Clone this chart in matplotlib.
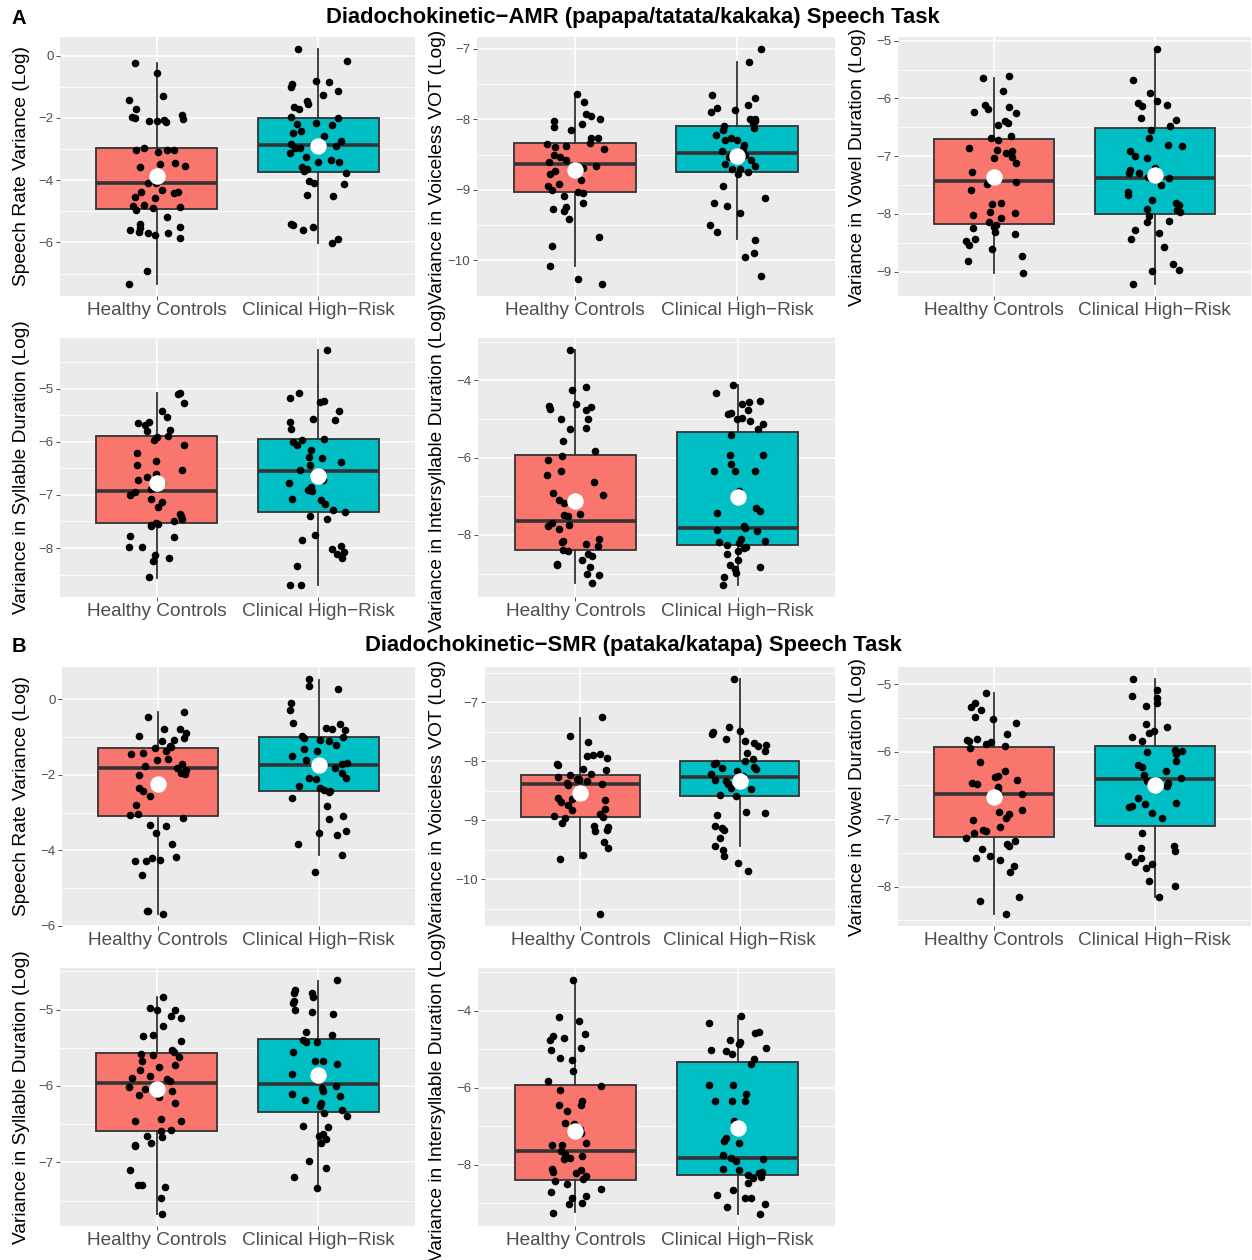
import numpy as np
import matplotlib
matplotlib.use("Agg")
import matplotlib.pyplot as plt
from matplotlib.ticker import MultipleLocator, FuncFormatter

plt.rcParams["font.family"] = ["Liberation Sans", "DejaVu Sans"]

groups = ["Healthy Controls", "Clinical High\u2212Risk"]
fills = ["#F8766D", "#00BFC4"]

# ---- AMR task (papapa/tatata/kakaka) ----
amr_rate_hc = [-0.24, -0.57, -1.30, -1.43, -1.70, -1.92, -1.98, -2.00, -2.02, -2.08, -2.11, -2.11,
               -2.13, -2.97, -3.02, -3.04, -3.04, -3.11, -3.45, -3.48, -3.54, -3.56, -3.85, -4.08,
               -4.10, -4.31, -4.37, -4.42, -4.39, -4.53, -4.58, -4.80, -4.83, -4.85, -4.90, -4.96,
               -5.17, -5.41, -5.49, -5.55, -5.60, -5.66, -5.69, -5.76, -5.87, -5.71, -6.91, -7.34]
amr_rate_chr = [0.22, -0.17, -0.82, -0.85, -0.92, -1.00, -1.14, -1.28, -1.47, -1.54, -1.65, -1.70,
                -1.97, -2.01, -2.16, -2.18, -2.22, -2.43, -2.48, -2.59, -2.75, -2.83, -2.89, -2.97,
                -2.98, -3.13, -3.26, -3.34, -3.41, -3.43, -3.56, -3.65, -3.72, -3.77, -4.12, -4.01,
                -4.08, -4.49, -4.51, -5.42, -5.44, -5.49, -5.60, -5.90, -6.03]
amr_rate_box = [[-4.91, -4.10, -2.97, -7.34, -0.24, -3.88],
                [-3.75, -2.86, -1.99, -6.03, 0.20, -2.89]]

amr_vot_hc = [-7.64, -7.76, -7.92, -7.96, -7.99, -8.03, -8.07, -8.11, -8.15, -8.26, -8.27, -8.33,
              -8.35, -8.38, -8.39, -8.42, -8.50, -8.54, -8.58, -8.61, -8.66, -8.69, -8.73, -8.75,
              -8.77, -8.86, -8.92, -8.95, -9.00, -9.03, -9.05, -9.09, -9.19, -9.25, -9.27, -9.30,
              -9.42, -9.67, -9.80, -10.08, -10.27, -10.34]
amr_vot_chr = [-7.00, -7.19, -7.66, -7.70, -7.80, -7.84, -7.87, -7.90, -7.99, -8.00, -8.03, -8.07,
               -8.09, -8.13, -8.15, -8.23, -8.26, -8.29, -8.30, -8.37, -8.42, -8.45, -8.51, -8.54,
               -8.58, -8.64, -8.66, -8.70, -8.71, -8.75, -8.78, -8.94, -9.11, -9.19, -9.23, -9.33,
               -9.50, -9.60, -9.71, -9.89, -9.96, -10.23]
amr_vot_box = [[-9.03, -8.63, -8.33, -10.08, -7.65, -8.72],
               [-8.75, -8.48, -8.09, -9.70, -7.19, -8.52]]

amr_vowel_hc = [-5.62, -5.64, -5.88, -6.11, -6.15, -6.19, -6.23, -6.26, -6.40, -6.43, -6.46, -6.66,
                -6.69, -6.72, -6.86, -6.89, -6.92, -6.95, -7.01, -7.04, -7.12, -7.27, -7.44, -7.48,
                -7.59, -7.81, -7.83, -7.96, -7.99, -8.02, -8.08, -8.15, -8.20, -8.22, -8.25, -8.31,
                -8.35, -8.43, -8.47, -8.54, -8.61, -8.73, -8.82, -9.03]
amr_vowel_chr = [-5.14, -5.68, -5.90, -6.08, -6.11, -6.05, -6.14, -6.34, -6.37, -6.48, -6.55, -6.69,
                 -6.81, -6.82, -6.92, -7.00, -7.03, -7.21, -7.24, -7.29, -7.30, -7.36, -7.38, -7.50,
                 -7.62, -7.67, -7.76, -7.82, -7.85, -7.91, -7.93, -7.96, -8.04, -8.12, -8.15, -8.28,
                 -8.33, -8.43, -8.58, -8.87, -8.98, -8.99, -9.22]
amr_vowel_box = [[-8.17, -7.43, -6.70, -9.03, -5.64, -7.37],
                 [-8.00, -7.38, -6.52, -9.22, -5.16, -7.33]]

amr_syll_hc = [-5.08, -5.11, -5.28, -5.42, -5.54, -5.62, -5.65, -5.68, -5.78, -5.79, -5.89, -5.92,
               -5.96, -6.06, -6.21, -6.36, -6.44, -6.54, -6.60, -6.66, -6.72, -6.78, -6.89, -6.95,
               -7.01, -7.08, -7.14, -7.22, -7.36, -7.39, -7.46, -7.50, -7.52, -7.54, -7.56, -7.58,
               -7.77, -7.79, -7.98, -7.99, -8.13, -8.18, -8.25, -8.55]
amr_syll_chr = [-4.27, -5.09, -5.18, -5.24, -5.26, -5.43, -5.58, -5.59, -5.62, -5.77, -5.94, -5.96,
                -6.00, -6.06, -6.15, -6.28, -6.30, -6.38, -6.43, -6.53, -6.72, -6.78, -6.85, -6.91,
                -6.93, -7.08, -7.09, -7.17, -7.28, -7.33, -7.39, -7.46, -7.75, -7.85, -7.96, -8.01,
                -8.07, -8.11, -8.18, -8.33, -8.70, -8.70]
amr_syll_box = [[-7.53, -6.92, -5.90, -8.56, -5.09, -6.77],
                [-7.33, -6.56, -5.95, -8.70, -4.27, -6.65]]

amr_inter_hc = [-3.21, -4.16, -4.25, -4.62, -4.68, -4.74, -4.77, -4.67, -5.00, -5.00, -5.23, -5.27,
                -5.58, -5.84, -5.95, -6.07, -6.35, -6.46, -6.63, -6.92, -6.96, -7.09, -7.18, -7.45,
                -7.48, -7.51, -7.68, -7.74, -7.78, -7.85, -8.11, -8.15, -8.17, -8.23, -8.29, -8.39,
                -8.41, -8.49, -8.55, -8.65, -8.74, -8.78, -8.82, -9.01, -9.04, -9.24]
amr_inter_chr = [-4.13, -4.34, -4.54, -4.56, -4.60, -4.78, -4.84, -4.87, -4.97, -5.01, -5.06, -5.14,
                 -5.26, -5.41, -5.92, -5.92, -6.16, -6.35, -6.35, -6.35, -6.87, -7.31, -7.39, -7.42,
                 -7.77, -7.83, -7.87, -7.91, -8.11, -8.15, -8.17, -8.22, -8.26, -8.30, -8.35, -8.41,
                 -8.48, -8.65, -8.78, -8.84, -8.89, -8.98, -9.08, -9.30]
amr_inter_box = [[-8.39, -7.64, -5.94, -9.23, -3.21, -7.11],
                 [-8.26, -7.83, -5.33, -9.30, -4.13, -7.03]]

# ---- SMR task (pataka/katapa) ----
smr_rate_hc = [-0.32, -0.47, -0.77, -0.78, -0.90, -0.96, -1.01, -1.08, -1.11, -1.23, -1.26, -1.30,
               -1.36, -1.43, -1.45, -1.57, -1.61, -1.72, -1.76, -1.81, -1.88, -1.94, -1.97, -2.01,
               -2.36, -2.42, -2.57, -2.79, -3.04, -3.07, -3.15, -3.32, -3.37, -3.55, -3.84, -4.17,
               -4.20, -4.27, -4.29, -4.30, -4.66, -5.62, -5.62, -5.70]
smr_rate_chr = [0.55, 0.37, 0.29, -0.10, -0.29, -0.62, -0.65, -0.76, -0.78, -0.81, -0.96, -0.99,
                -1.02, -1.08, -1.11, -1.20, -1.32, -1.36, -1.50, -1.61, -1.68, -1.72, -1.76, -1.81,
                -1.94, -2.08, -2.09, -2.12, -2.30, -2.34, -2.39, -2.43, -2.45, -2.61, -2.83, -3.10,
                -3.16, -3.50, -3.55, -3.59, -3.84, -4.14, -4.57]
smr_rate_box = [[-3.08, -1.83, -1.30, -5.70, -0.34, -2.25],
                [-2.42, -1.74, -0.99, -4.14, 0.53, -1.74]]

smr_vot_hc = [-7.24, -7.57, -7.67, -7.87, -7.90, -7.91, -7.94, -8.04, -8.06, -8.13, -8.15, -8.22,
              -8.23, -8.26, -8.29, -8.30, -8.32, -8.34, -8.36, -8.38, -8.40, -8.62, -8.64, -8.66,
              -8.68, -8.74, -8.81, -8.83, -8.90, -8.93, -8.95, -8.96, -9.04, -9.10, -9.12, -9.16,
              -9.18, -9.37, -9.47, -9.59, -9.65, -10.59]
smr_vot_chr = [-6.60, -7.41, -7.49, -7.51, -7.53, -7.62, -7.65, -7.69, -7.72, -7.74, -7.82, -7.85,
               -7.96, -7.99, -8.02, -8.05, -8.09, -8.12, -8.13, -8.16, -8.22, -8.25, -8.29, -8.32,
               -8.34, -8.38, -8.45, -8.47, -8.57, -8.59, -8.85, -8.87, -8.91, -9.10, -9.13, -9.17,
               -9.29, -9.44, -9.50, -9.61, -9.72, -9.85]
smr_vot_box = [[-8.94, -8.39, -8.23, -9.64, -7.26, -8.54],
               [-8.59, -8.26, -7.99, -9.43, -6.60, -8.33]]

smr_vowel_hc = [-5.13, -5.28, -5.34, -5.38, -5.48, -5.52, -5.57, -5.74, -5.81, -5.83, -5.84, -5.86,
                -5.89, -5.91, -5.95, -6.16, -6.29, -6.36, -6.38, -6.42, -6.46, -6.48, -6.53, -6.56,
                -6.63, -6.86, -6.89, -6.93, -6.98, -7.02, -7.12, -7.16, -7.18, -7.21, -7.28, -7.33,
                -7.37, -7.40, -7.45, -7.54, -7.57, -7.60, -7.70, -7.78, -8.16, -8.21, -8.41]
smr_vowel_chr = [-4.92, -5.08, -5.18, -5.20, -5.28, -5.33, -5.59, -5.64, -5.69, -5.72, -5.78, -5.84,
                 -5.97, -5.99, -6.01, -6.03, -6.14, -6.20, -6.23, -6.29, -6.34, -6.39, -6.43, -6.46,
                 -6.51, -6.68, -6.76, -6.78, -6.81, -6.82, -6.91, -6.98, -7.21, -7.40, -7.43, -7.48,
                 -7.55, -7.58, -7.63, -7.67, -7.73, -7.92, -7.99, -8.15]
smr_vowel_box = [[-7.27, -6.63, -5.93, -8.41, -5.13, -6.67],
                 [-7.10, -6.40, -5.91, -8.15, -4.92, -6.50]]

smr_syll_hc = [-4.83, -4.98, -5.00, -5.01, -5.08, -5.11, -5.21, -5.33, -5.35, -5.41, -5.53, -5.55,
               -5.58, -5.60, -5.62, -5.67, -5.72, -5.75, -5.79, -5.87, -5.89, -5.91, -5.94, -6.01,
               -6.04, -6.07, -6.12, -6.15, -6.23, -6.43, -6.46, -6.46, -6.58, -6.59, -6.66, -6.67,
               -6.75, -6.77, -6.78, -7.10, -7.30, -7.30, -7.32, -7.47, -7.68]
smr_syll_chr = [-4.61, -4.75, -4.78, -4.79, -4.83, -4.89, -4.92, -5.01, -5.03, -5.06, -5.30, -5.34,
                -5.40, -5.42, -5.43, -5.55, -5.67, -5.68, -5.71, -5.85, -6.00, -6.03, -6.06, -6.10,
                -6.13, -6.19, -6.23, -6.26, -6.32, -6.35, -6.40, -6.52, -6.54, -6.63, -6.66, -6.69,
                -6.75, -6.98, -7.07, -7.19, -7.34]
smr_syll_box = [[-6.59, -5.96, -5.57, -7.68, -4.83, -6.04],
                [-6.34, -5.97, -5.38, -7.34, -4.63, -5.86]]

smr_inter_hc = [-3.20, -4.16, -4.26, -4.61, -4.65, -4.71, -4.76, -4.98, -5.02, -5.23, -5.28, -5.56,
                -5.84, -5.95, -6.07, -6.34, -6.45, -6.46, -6.62, -6.91, -6.95, -7.08, -7.19, -7.45,
                -7.49, -7.49, -7.64, -7.73, -7.77, -7.82, -7.86, -8.12, -8.15, -8.18, -8.23, -8.30,
                -8.38, -8.43, -8.51, -8.64, -8.70, -8.82, -8.86, -8.99, -9.03, -9.25]
smr_inter_chr = [-4.13, -4.33, -4.56, -4.59, -4.76, -4.82, -4.87, -4.97, -5.02, -5.06, -5.13, -5.26,
                 -5.39, -5.93, -5.93, -6.17, -6.34, -6.34, -6.34, -6.86, -7.31, -7.38, -7.43, -7.75,
                 -7.84, -7.86, -7.90, -8.12, -8.15, -8.18, -8.23, -8.27, -8.32, -8.36, -8.47, -8.67,
                 -8.79, -8.86, -8.88, -9.03, -9.10, -9.29]
smr_inter_box = [[-8.40, -7.64, -5.93, -9.22, -3.24, -7.12],
                 [-8.27, -7.84, -5.33, -9.29, -4.13, -7.04]]

ylabels = ["Speech Rate Variance (Log)", "Variance in Voiceless VOT (Log)",
           "Variance in Vowel Duration (Log)", "Variance in Syllable Duration (Log)",
           "Variance in Intersyllable Duration (Log)"]
tick_steps = [2, 1, 1, 1, 2]

amr_panels = [(amr_rate_hc, amr_rate_chr, amr_rate_box), (amr_vot_hc, amr_vot_chr, amr_vot_box),
              (amr_vowel_hc, amr_vowel_chr, amr_vowel_box), (amr_syll_hc, amr_syll_chr, amr_syll_box),
              (amr_inter_hc, amr_inter_chr, amr_inter_box)]
smr_panels = [(smr_rate_hc, smr_rate_chr, smr_rate_box), (smr_vot_hc, smr_vot_chr, smr_vot_box),
              (smr_vowel_hc, smr_vowel_chr, smr_vowel_box), (smr_syll_hc, smr_syll_chr, smr_syll_box),
              (smr_inter_hc, smr_inter_chr, smr_inter_box)]

W, H = 1252, 1260
fig = plt.figure(figsize=(W / 100, H / 100), dpi=100)

# panel boxes in pixels: left, top, right, bottom
amr_rects = [(60, 37, 415, 296), (477, 37, 835, 296), (898, 37, 1251, 296),
             (60, 338, 415, 597), (478, 338, 835, 597)]
smr_rects = [(62, 667, 415, 926), (485, 667, 835, 926), (898, 667, 1251, 926),
             (60, 968, 415, 1226), (478, 968, 835, 1226)]
label_x = [22, 437, 858, 22, 437]

rng = np.random.default_rng(11)


def minus_fmt(v, pos):
    return f"{int(round(v))}".replace("-", "\u2212")


def draw_panel(rect, hc, chr_, box, ylabel, step, lab_x):
    l, t, r, b = rect
    ax = fig.add_axes([l / W, 1 - b / H, (r - l) / W, (b - t) / H])
    ax.set_facecolor("#EBEBEB")
    for s in ax.spines.values():
        s.set_visible(False)
    ax.set_axisbelow(True)

    stats = []
    for i, st in enumerate(box):
        q1, med, q3, lo, hi, mean = st
        stats.append(dict(q1=q1, med=med, q3=q3, whislo=lo, whishi=hi, mean=mean,
                          fliers=[], label=groups[i]))
    bp = ax.bxp(stats, positions=[1, 2], widths=0.75, patch_artist=True,
                showcaps=False, showfliers=False, showmeans=False,
                boxprops=dict(edgecolor="#333333", linewidth=1.3),
                whiskerprops=dict(color="#333333", linewidth=1.3),
                medianprops=dict(color="#333333", linewidth=2.6))
    for patch, c in zip(bp["boxes"], fills):
        patch.set_facecolor(c)

    # jittered observations, then the group mean in white
    for i, vals in enumerate([hc, chr_]):
        vals = np.asarray(vals)
        xs = i + 1 + rng.uniform(-0.18, 0.18, len(vals))
        ax.scatter(xs, vals, s=30, color="black", zorder=4, linewidths=0)
    ax.scatter([1, 2], [box[0][5], box[1][5]], s=140, color="white", zorder=5, linewidths=0)

    allv = np.concatenate([hc, chr_])
    lo, hi = allv.min(), allv.max()
    pad = (hi - lo) * 0.05
    ax.set_ylim(lo - pad, hi + pad)
    ax.set_xlim(0.4, 2.6)
    ax.set_xticks([1, 2])
    ax.set_xticklabels(groups)
    ax.yaxis.set_major_locator(MultipleLocator(step))
    ax.yaxis.set_minor_locator(MultipleLocator(step / 2))
    ax.yaxis.set_major_formatter(FuncFormatter(minus_fmt))
    ax.grid(True, which="major", color="white", linewidth=1.1)
    ax.grid(True, which="minor", axis="y", color="white", linewidth=0.55)
    ax.tick_params(axis="both", which="major", length=2.75, width=0.6, color="#333333")
    ax.tick_params(axis="y", which="minor", length=0)
    ax.tick_params(axis="x", labelsize=13.7, labelcolor="#4D4D4D", pad=1.5)
    ax.tick_params(axis="y", labelsize=9.5, labelcolor="#4D4D4D", pad=2)

    fig.text(lab_x / W, 1 - (t + b) / 2 / H, ylabel, rotation=90, ha="center",
             va="center", fontsize=13.8)
    return ax


for k, (hc, chr_, box) in enumerate(amr_panels):
    draw_panel(amr_rects[k], hc, chr_, box, ylabels[k], tick_steps[k], label_x[k])
for k, (hc, chr_, box) in enumerate(smr_panels):
    draw_panel(smr_rects[k], hc, chr_, box, ylabels[k], tick_steps[k], label_x[k])

fig.text(633 / W, 1 - 17 / H, "Diadochokinetic\u2212AMR (papapa/tatata/kakaka) Speech Task",
         ha="center", va="center", fontsize=15.8, fontweight="bold")
fig.text(633 / W, 1 - 646 / H, "Diadochokinetic\u2212SMR (pataka/katapa) Speech Task",
         ha="center", va="center", fontsize=15.8, fontweight="bold")
fig.text(12 / W, 1 - 18 / H, "A", ha="left", va="center", fontsize=14.5, fontweight="bold")
fig.text(12 / W, 1 - 647 / H, "B", ha="left", va="center", fontsize=14.5, fontweight="bold")

fig.savefig("out.png", dpi=100)
